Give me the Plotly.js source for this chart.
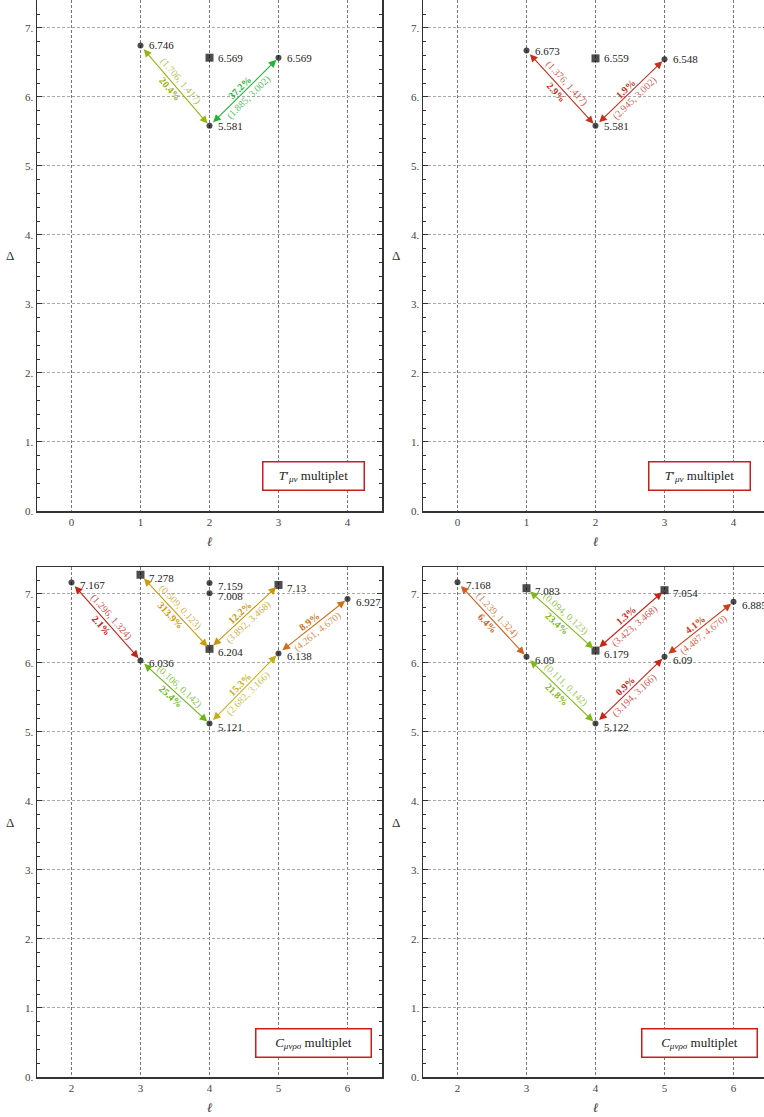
<!DOCTYPE html>
<html><head><meta charset="utf-8">
<script src="https://cdn.plot.ly/plotly-3.0.1.min.js"></script>
<style>html,body{margin:0;padding:0;overflow:hidden;background:#fff}</style>
</head><body><div id="chart" style="width:770px;height:1117px"></div>
<script>
// ---------- DATA ----------
// Top-left panel (T'_mu nu multiplet, set A)
const tlEll   = [1, 2, 3, 2];
const tlDelta = [6.746, 6.569, 6.569, 5.581];
const tlShape = ['circle', 'square', 'circle', 'circle'];
const tlArrFrom = [0, 3];
const tlArrTo   = [3, 2];
const tlArrPct  = ['20.4%', '37.2%'];
const tlArrInt  = ['(1.706, 1.417)', '(1.885, 3.002)'];

// Top-right panel (T'_mu nu multiplet, set B)
const trEll   = [1, 2, 3, 2];
const trDelta = [6.673, 6.559, 6.548, 5.581];
const trShape = ['circle', 'square', 'circle', 'circle'];
const trArrFrom = [0, 3];
const trArrTo   = [3, 2];
const trArrPct  = ['2.9%', '1.9%'];
const trArrInt  = ['(1.376, 1.417)', '(2.945, 3.002)'];

// Bottom-left panel (C_mu nu rho sigma multiplet, set A)
const blEll   = [2, 3, 3, 4, 4, 4, 4, 5, 5, 6];
const blDelta = [7.167, 7.278, 6.036, 7.159, 7.008, 6.204, 5.121, 7.13, 6.138, 6.927];
const blShape = ['circle','square','circle','circle','circle','square','circle','square','circle','circle'];
const blArrFrom = [0, 1, 2, 5, 6, 8];
const blArrTo   = [2, 5, 6, 7, 8, 9];
const blArrPct  = ['2.1%', '313.9%', '25.4%', '12.2%', '15.3%', '8.9%'];
const blArrInt  = ['(1.296, 1.324)', '(0.509, 0.123)', '(0.106, 0.142)', '(3.892, 3.468)', '(2.682, 3.166)', '(4.261, 4.670)'];

// Bottom-right panel (C_mu nu rho sigma multiplet, set B)
const brEll   = [2, 3, 3, 4, 4, 5, 5, 6];
const brDelta = [7.168, 7.083, 6.09, 6.179, 5.122, 7.054, 6.09, 6.885];
const brShape = ['circle','square','circle','square','circle','square','circle','circle'];
const brArrFrom = [0, 1, 2, 3, 4, 6];
const brArrTo   = [2, 3, 4, 5, 6, 7];
const brArrPct  = ['6.4%', '23.4%', '21.8%', '1.3%', '0.9%', '4.1%'];
const brArrInt  = ['(1.239, 1.324)', '(0.094, 0.123)', '(0.111, 0.142)', '(3.423, 3.468)', '(3.194, 3.166)', '(4.487, 4.670)'];

const yTickVals = [0, 1, 2, 3, 4, 5, 6, 7];
const yTickText = ['0.', '1.', '2.', '3.', '4.', '5.', '6.', '7.'];
const topXTicks = [0, 1, 2, 3, 4];
const botXTicks = [2, 3, 4, 5, 6];
const topLabel = '<i>T</i>′<sub><i>μν</i></sub> multiplet';
const botLabel = '<i>C</i><sub><i>μνρσ</i></sub> multiplet';

// ---------- STYLE ----------
const tlColors = ['rgb(155,178,20)', 'rgb(34,178,52)'];
const trColors = ['rgb(196,50,30)', 'rgb(196,50,30)'];
const blColors = ['rgb(196,34,26)', 'rgb(200,156,14)', 'rgb(104,182,20)', 'rgb(200,150,14)', 'rgb(196,176,20)', 'rgb(206,112,22)'];
const brColors = ['rgb(206,96,34)', 'rgb(126,184,22)', 'rgb(126,184,22)', 'rgb(196,38,26)', 'rgb(196,38,26)', 'rgb(204,62,26)'];

const W = 770, H = 1117;
const FONT = 'Liberation Serif, DejaVu Serif, serif';
const xDomL = [37 / W, 382 / W], xDomR = [423 / W, 768 / W];
const yDomT = [1 - 511 / H, 1.0], yDomB = [1 - 1077 / H, 1 - 567 / H];
const yRangeT = [0, 7.405], yRangeB = [0, 7.39];
const xRangeT = [-0.5, 4.5], xRangeB = [1.5, 6.5];

function xAxis(dom, range, ticks, anchor) {
  return {
    domain: dom, range: range, anchor: anchor,
    tickvals: ticks, ticktext: ticks.map(String), ticks: '',
    showline: true, linecolor: '#333', linewidth: 1.5, mirror: true,
    showgrid: true, gridcolor: '#777', gridwidth: 1, griddash: '3px,2px',
    zeroline: false, tickfont: {family: FONT, size: 11, color: '#444'}
  };
}
function yAxis(dom, range, anchor) {
  return {
    domain: dom, range: range, anchor: anchor,
    tickvals: yTickVals, ticktext: yTickText,
    ticks: 'inside', ticklen: 5, tickcolor: '#333', tickwidth: 1,
    minor: {dtick: 0.2, ticks: 'inside', ticklen: 3, tickcolor: '#333', showgrid: false},
    showline: true, linecolor: '#333', linewidth: 1.5, mirror: 'allticks',
    showgrid: true, gridcolor: '#aaa', gridwidth: 1, griddash: '3px,2px',
    zeroline: false, tickfont: {family: FONT, size: 11, color: '#444'}
  };
}

const layout = {
  width: W, height: H, margin: {l: 0, r: 0, t: 0, b: 0},
  paper_bgcolor: '#fff', plot_bgcolor: '#fff', showlegend: false,
  xaxis: xAxis(xDomL, xRangeT, topXTicks, 'y'),
  yaxis: yAxis(yDomT, yRangeT, 'x'),
  xaxis2: xAxis(xDomR, xRangeT, topXTicks, 'y2'),
  yaxis2: yAxis(yDomT, yRangeT, 'x2'),
  xaxis3: xAxis(xDomL, xRangeB, botXTicks, 'y3'),
  yaxis3: yAxis(yDomB, yRangeB, 'x3'),
  xaxis4: xAxis(xDomR, xRangeB, botXTicks, 'y4'),
  yaxis4: yAxis(yDomB, yRangeB, 'x4'),
  annotations: []
};

const panels = [
  {xr: 'x',  yr: 'y',  ell: tlEll, del: tlDelta, shp: tlShape, from: tlArrFrom, to: tlArrTo, pct: tlArrPct, intv: tlArrInt, col: tlColors, xd: xDomL, yd: yDomT, xrg: xRangeT, yrg: yRangeT, lab: topLabel, labY: 0, box: [3.507, 0.507]},
  {xr: 'x2', yr: 'y2', ell: trEll, del: trDelta, shp: trShape, from: trArrFrom, to: trArrTo, pct: trArrPct, intv: trArrInt, col: trColors, xd: xDomR, yd: yDomT, xrg: xRangeT, yrg: yRangeT, lab: topLabel, labY: 0, box: [3.507, 0.507]},
  {xr: 'x3', yr: 'y3', ell: blEll, del: blDelta, shp: blShape, from: blArrFrom, to: blArrTo, pct: blArrPct, intv: blArrInt, col: blColors, xd: xDomL, yd: yDomB, xrg: xRangeB, yrg: yRangeB, lab: botLabel, labY: -3, box: [5.5, 0.486]},
  {xr: 'x4', yr: 'y4', ell: brEll, del: brDelta, shp: brShape, from: brArrFrom, to: brArrTo, pct: brArrPct, intv: brArrInt, col: brColors, xd: xDomR, yd: yDomB, xrg: xRangeB, yrg: yRangeB, lab: botLabel, labY: -3, box: [5.507, 0.486]}
];

function lighten(rgb, a) { return rgb.replace('rgb(', 'rgba(').replace(')', ',' + a + ')'); }

const traces = [];
panels.forEach(p => {
  traces.push({
    type: 'scatter', mode: 'markers', x: p.ell, y: p.del, xaxis: p.xr, yaxis: p.yr,
    marker: {color: '#000', symbol: p.shp, size: p.shp.map(s => s === 'square' ? 8 : 6), line: {width: 0}},
    hoverinfo: 'skip', cliponaxis: false
  });
  const sx = (p.xd[1] - p.xd[0]) * W / (p.xrg[1] - p.xrg[0]);
  const sy = (p.yd[1] - p.yd[0]) * H / (p.yrg[1] - p.yrg[0]);
  // point labels
  p.ell.forEach((e, i) => {
    layout.annotations.push({
      x: e, y: p.del[i], xref: p.xr, yref: p.yr, text: String(p.del[i]), showarrow: false,
      xanchor: 'left', yanchor: 'middle', xshift: 6, yshift: p.labY,
      font: {family: FONT, size: 11, color: '#222'}
    });
  });
  // arrows and rotated labels
  p.from.forEach((f, k) => {
    const t = p.to[k];
    const x0 = p.ell[f], y0 = p.del[f], x1 = p.ell[t], y1 = p.del[t];
    const col = p.col[k];
    layout.annotations.push({
      x: x1, y: y1, ax: x0, ay: y0, xref: p.xr, yref: p.yr, axref: p.xr, ayref: p.yr,
      text: '', showarrow: true, arrowside: 'end+start', arrowhead: 2, startarrowhead: 2,
      arrowsize: 1.4, startarrowsize: 1.4, arrowwidth: 1.1, arrowcolor: col,
      standoff: 3, startstandoff: 3
    });
    const dx = (x1 - x0) * sx, dy = (y1 - y0) * sy;
    const len = Math.hypot(dx, dy);
    let nx = -dy / len, ny = dx / len;
    if (nx > 0) { nx = -nx; ny = -ny; }  // normal pointing to the left side
    const ang = -Math.atan2(dy, dx) * 180 / Math.PI;
    const mx = (x0 + x1) / 2, my = (y0 + y1) / 2;
    const angDisp = dx >= 0 ? ang : ang + 180;
    layout.annotations.push({
      x: mx, y: my, xref: p.xr, yref: p.yr, text: '<b>' + p.pct[k] + '</b>', showarrow: false,
      textangle: angDisp, xshift: nx * 6, yshift: ny * 6,
      font: {family: FONT, size: 10, color: col}
    });
    layout.annotations.push({
      x: mx, y: my, xref: p.xr, yref: p.yr, text: p.intv[k], showarrow: false,
      textangle: angDisp, xshift: -nx * 7, yshift: -ny * 7,
      font: {family: FONT, size: 10, color: lighten(col, 0.8)}
    });
  });
  // multiplet box
  layout.annotations.push({
    x: p.box[0], y: p.box[1], xref: p.xr, yref: p.yr, text: p.lab, showarrow: false,
    bordercolor: 'rgb(200,30,30)', borderwidth: 1.5, borderpad: 2, bgcolor: '#fff',
    width: p.lab === topLabel ? 96 : 110, height: 23,
    font: {family: FONT, size: 13, color: '#222'}
  });
  // axis titles
  const xc = (p.xd[0] + p.xd[1]) / 2;
  layout.annotations.push({
    x: xc, y: p.yd[0] - 30 / H, xref: 'paper', yref: 'paper', text: '<i>ℓ</i>', showarrow: false,
    xanchor: 'center', yanchor: 'middle', font: {family: FONT, size: 13, color: '#333'}
  });
  layout.annotations.push({
    x: p.xd[0] - 27 / W, y: (p.yd[0] + p.yd[1]) / 2, xref: 'paper', yref: 'paper', text: 'Δ', showarrow: false,
    xanchor: 'center', yanchor: 'middle', font: {family: FONT, size: 13, color: '#333'}
  });
});

Plotly.newPlot('chart', traces, layout, {staticPlot: true, displayModeBar: false});
</script></body></html>
